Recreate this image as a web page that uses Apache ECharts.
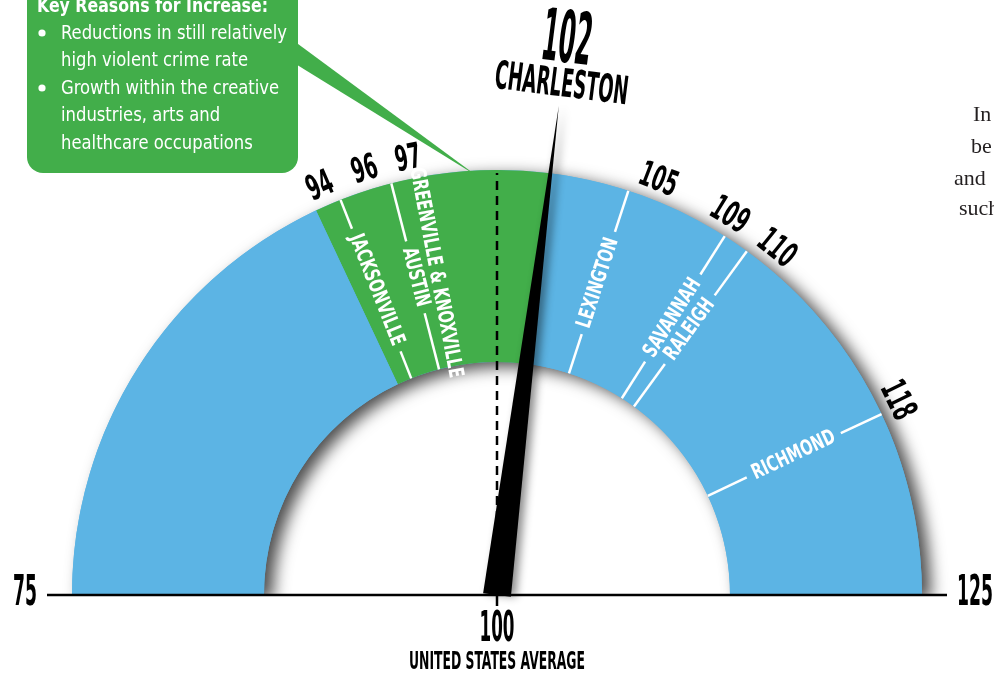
<!DOCTYPE html>
<html>
<head>
<meta charset="utf-8">
<script src="https://cdn.jsdelivr.net/npm/echarts@6/dist/echarts.min.js"></script>
<style>
  html, body { margin: 0; padding: 0; background: #fff; }
  #chart { width: 994px; height: 677px; }
</style>
</head>
<body>
<div id="chart"></div>
<script>
// Index scale (United States average = 100)
const scaleMin = 75;
const scaleMax = 125;
const usAverage = 100;
const baseValues = [75, 100, 125];
const baseLabels = ['75', '100', '125'];
const baseCaption = 'UNITED STATES AVERAGE';

// Highlighted band and the headline city
const greenBand = [93, 102];
const headlineName = 'CHARLESTON';
const headlineValue = 102;

// Peer cities marked on the dial
const peerValues = [94, 96, 97, 105, 109, 110, 118];
const peerLabels = ['94', '96', '97', '105', '109', '110', '118'];
const peerNames = ['JACKSONVILLE', 'AUSTIN', 'GREENVILLE & KNOXVILLE', 'LEXINGTON', 'SAVANNAH', 'RALEIGH', 'RICHMOND'];

// Call-out text
const calloutTitle = 'Key Reasons for Increase:';
const calloutBullets = [
  ['Reductions in still relatively', 'high violent crime rate'],
  ['Growth within the creative', 'industries, arts and', 'healthcare occupations']
];

// Neighbouring body copy running off the right edge
const sideWords = ['In', 'be', 'and', 'such'];

// ---- layout & style ----
const CX = 497, CY = 595;          // dial centre
const R_OUT = 425, R_IN = 233;     // band radii
const CITY_R = 328;                // radius of city names
const NUM_R = 444;                 // radius of peer values
const NUM_SPREAD = [-0.5, -0.8, -0.2, 0.9, -0.25, 0.8, -0.2]; // keeps crowded value labels apart
const HEAD_NAME_R = 513, HEAD_NUM_R = 556;
const BASE_R = 450, BASE_LABEL_R = 460;
const BLUE = '#5cb4e4', GREEN = '#42ae4a', INK = '#000';

const DISPLAY = '"Liberation Sans Narrow", "DejaVu Sans Condensed", "Roboto", sans-serif';
const SERIF = '"Liberation Serif", "DejaVu Serif", serif';
const fontOf = (size, weight) => `${weight || 'bold'} ${size}px ${DISPLAY}`;

const measure = document.createElement('canvas').getContext('2d');
function widthOf(text, font) { measure.font = font; return measure.measureText(text).width; }
function fit(text, font, w) { return w / widthOf(text, font); }

const TICK_FONT = fontOf(35), TICK_SX = fit('94', TICK_FONT, 26);
const CITY_FONT = fontOf(21), CITY_SX = fit('JACKSONVILLE', CITY_FONT, 118);
const HNUM_FONT = fontOf(72), HNUM_SX = fit('102', HNUM_FONT, 50);
const HNAME_FONT = fontOf(39), HNAME_SX = fit('CHARLESTON', HNAME_FONT, 134);
const AVG_FONT = fontOf(42), AVG_SX = fit('100', AVG_FONT, 35);
const CAP_FONT = fontOf(25), CAP_SX = fit(baseCaption, CAP_FONT, 176);
const END_FONT = fontOf(42), END_SX = fit('75', END_FONT, 24);
const BODY_FONT = fontOf(19, 'normal'), BODY_SX = fit('Reductions in still relatively', BODY_FONT, 226);
const TITLE_FONT = fontOf(20), TITLE_SX = fit(calloutTitle, TITLE_FONT, 231);

function angleAt(api, v) {
  const c = api.coord([0, v]), o = api.coord([100, v]);
  return Math.atan2(c[1] - o[1], o[0] - c[0]);
}
function seg(a, b, color, width, dash) {
  return { type: 'line', shape: { x1: a[0], y1: a[1], x2: b[0], y2: b[1] },
           style: { stroke: color, lineWidth: width, lineDash: dash || null } };
}
function label(p, text, font, sx, rot, color, align) {
  return { type: 'text', x: p[0], y: p[1], rotation: rot || 0, scaleX: sx,
           style: { text, font, fill: color, align: align || 'center', verticalAlign: 'middle' } };
}

// Peer city tick, name and value
function renderPeer(params, api) {
  const i = params.dataIndex, v = api.value(1);
  const at = r => api.coord([r, v]);
  const ang = angleAt(api, v);
  const kids = [];
  const half = widthOf(peerNames[i], CITY_FONT) * CITY_SX / 2;
  const lo = CITY_R - half - 7, hi = CITY_R + half + 7;
  if (lo > R_IN) kids.push(seg(at(R_IN), at(lo), '#fff', 2.5));
  if (hi < R_OUT) kids.push(seg(at(hi), at(R_OUT), '#fff', 2.5));
  const rot = ang > Math.PI / 2 ? ang - Math.PI : ang;
  kids.push(label(at(CITY_R), peerNames[i], CITY_FONT, CITY_SX, rot, '#fff'));
  const lv = v + NUM_SPREAD[i];
  kids.push(label(api.coord([NUM_R, lv]), peerLabels[i], TICK_FONT, TICK_SX, angleAt(api, lv) - Math.PI / 2, INK));
  return { type: 'group', children: kids };
}

// Base line, end values and the US average marker
function renderBase(params, api) {
  const i = params.dataIndex, v = api.value(1);
  const c = api.coord([0, v]);
  const kids = [];
  if (v === usAverage) {
    kids.push(seg(c, api.coord([R_OUT - 3, v]), INK, 2.5, [9, 6]));
    kids.push(seg(c, [c[0], c[1] + 11], INK, 2.5));
    kids.push(label([c[0], c[1] + 35], baseLabels[i], AVG_FONT, AVG_SX, 0, INK));
    kids.push(label([c[0], c[1] + 67], baseCaption, CAP_FONT, CAP_SX, 0, INK));
  } else {
    kids.push(seg(c, api.coord([BASE_R, v]), INK, 2.5));
    const p = api.coord([BASE_LABEL_R, v]);
    kids.push(label([p[0], p[1] - 1], baseLabels[i], END_FONT, END_SX, 0, INK, v === scaleMin ? 'right' : 'left'));
  }
  return { type: 'group', children: kids };
}

// Headline city above the needle tip
function renderHead(params, api) {
  const v = api.value(1);
  const ang = angleAt(api, v);
  return { type: 'group', children: [
    label(api.coord([HEAD_NUM_R, v]), String(headlineValue), HNUM_FONT, HNUM_SX, ang - Math.PI / 2, INK),
    label(api.coord([HEAD_NAME_R, v]), headlineName, HNAME_FONT, HNAME_SX, ang - Math.PI / 2, INK)
  ] };
}

const span = scaleMax - scaleMin;
const hidden = { show: false };
const gaugeBase = {
  type: 'gauge', center: [CX, CY], radius: R_OUT, startAngle: 180, endAngle: 0,
  min: scaleMin, max: scaleMax, splitLine: hidden, axisTick: hidden, axisLabel: hidden,
  anchor: hidden, title: hidden, detail: hidden, progress: hidden, pointer: hidden, silent: true,
  data: [{ value: headlineValue }]
};

// Call-out graphics
const callout = [
  { type: 'rect', shape: { x: 27, y: -40, width: 271, height: 213, r: 16 }, style: { fill: GREEN }, z: 10 },
  { type: 'polygon', shape: { points: [[294, 41], [294, 63], [477, 176]] }, style: { fill: GREEN }, z: 10 },
  { type: 'text', x: 37, y: 7, scaleX: TITLE_SX, z: 11,
    style: { text: calloutTitle, font: TITLE_FONT, fill: '#fff', verticalAlign: 'middle' } }
];
let lineY = 34;
calloutBullets.forEach(lines => {
  callout.push({ type: 'circle', shape: { cx: 42, cy: lineY - 1, r: 3.6 }, style: { fill: '#fff' }, z: 11 });
  lines.forEach(t => {
    callout.push({ type: 'text', x: 61, y: lineY, scaleX: BODY_SX, z: 11,
      style: { text: t, font: BODY_FONT, fill: '#fff', verticalAlign: 'middle' } });
    lineY += 27.5;
  });
});
const sideX = [973, 971, 954, 959], sideY = [126, 158, 190, 220];
sideWords.forEach((w, i) => callout.push({ type: 'text', x: sideX[i], y: sideY[i], z: 11,
  style: { text: w, font: `22px ${SERIF}`, fill: '#231f20', verticalAlign: 'bottom' } }));
// keep the band's soft shadow from spilling under the base line
callout.push({ type: 'rect', shape: { x: 0, y: CY + 1, width: 994, height: 90 }, style: { fill: '#fff' }, z: 2 });

const chart = echarts.init(document.getElementById('chart'));
chart.setOption({
  animation: false,
  backgroundColor: '#fff',
  polar: { center: [CX, CY], radius: R_OUT },
  angleAxis: { type: 'value', min: scaleMin, max: scaleMax, startAngle: 180, endAngle: 0, clockwise: true, show: false },
  radiusAxis: { type: 'value', min: 0, max: R_OUT, show: false },
  graphic: callout,
  series: [
    // drop shadow under the whole band
    Object.assign({}, gaugeBase, {
      z: 1,
      axisLine: { lineStyle: {
        width: R_OUT - R_IN, color: [[1, BLUE]],
        shadowColor: 'rgba(0,0,0,0.7)', shadowBlur: 16, shadowOffsetX: 9, shadowOffsetY: 5
      } }
    }),
    // coloured band segments
    Object.assign({}, gaugeBase, {
      z: 2,
      axisLine: { lineStyle: {
        width: R_OUT - R_IN,
        color: [[(greenBand[0] - scaleMin) / span, BLUE], [(greenBand[1] - scaleMin) / span, GREEN], [1, BLUE]]
      } }
    }),
    { type: 'custom', coordinateSystem: 'polar', z: 3, silent: true,
      data: peerValues.map(v => [R_OUT, v]), renderItem: renderPeer },
    { type: 'custom', coordinateSystem: 'polar', z: 4, silent: true,
      data: baseValues.map(v => [0, v]), renderItem: renderBase },
    { type: 'custom', coordinateSystem: 'polar', z: 4, silent: true,
      data: [[0, headlineValue]], renderItem: renderHead },
    Object.assign({}, gaugeBase, {
      z: 6,
      axisLine: hidden,
      pointer: { show: true, icon: 'triangle', length: 493, width: 28, offsetCenter: [0, 0],
        itemStyle: { color: INK, shadowColor: 'rgba(0,0,0,0.45)', shadowBlur: 8, shadowOffsetX: 5 } }
    })
  ]
});
</script>
</body>
</html>
